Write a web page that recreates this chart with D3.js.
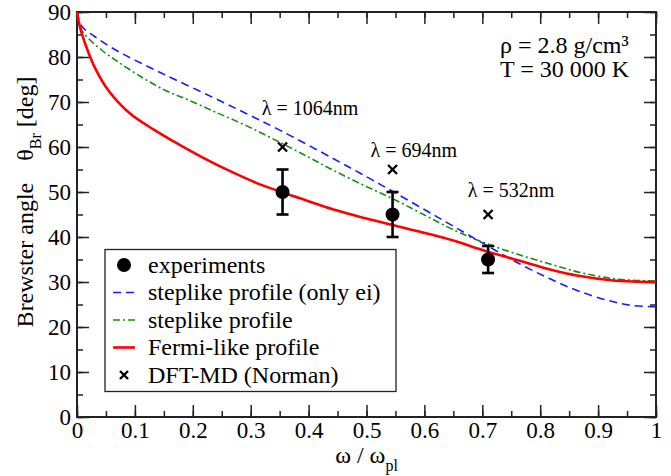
<!DOCTYPE html>
<html>
<head>
<meta charset="utf-8">
<script src="https://d3js.org/d3.v7.min.js"></script>
<style>
  body { margin: 0; background: #fff; }
</style>
</head>
<body>
<div id="chart"></div>
<script>
// tick values
var xTicks = [0, 0.1, 0.2, 0.3, 0.4, 0.5, 0.6, 0.7, 0.8, 0.9, 1];
var yTicks = [0, 10, 20, 30, 40, 50, 60, 70, 80, 90];

// experiments (x, angle, error)
var expX = [0.355, 0.545, 0.71];
var expY = [50, 45, 35];
var expErr = [5, 5, 3];

// DFT-MD (Norman)
var dftX = [0.355, 0.545, 0.71];
var dftY = [60, 55, 45];
var dftLabels = ["λ = 1064nm", "λ = 694nm", "λ = 532nm"];

// steplike profile (only ei)
var blueLine = [[0, 90], [0.008, 86.9], [0.031, 84.5], [0.066, 81.6], [0.1, 79.3], [0.135, 77.1],
  [0.169, 75.0], [0.235, 71.0], [0.293, 67.4], [0.351, 63.7], [0.443, 57.4], [0.5, 53.4],
  [0.547, 50.0], [0.6, 46.1], [0.65, 42.4], [0.708, 38.1], [0.765, 34.0], [0.817, 30.7],
  [0.866, 28.0], [0.923, 25.7], [0.958, 24.8], [1.0, 24.5]];

// steplike profile
var greenLine = [[0, 90], [0.008, 86.0], [0.02, 84.1], [0.043, 81.5], [0.071, 78.9], [0.112, 75.5],
  [0.152, 72.6], [0.186, 70.8], [0.235, 68.0], [0.293, 64.7], [0.351, 61.0], [0.402, 57.6],
  [0.443, 54.8], [0.5, 51.2], [0.547, 48.4], [0.6, 44.9], [0.65, 41.6], [0.708, 38.5],
  [0.765, 36.0], [0.817, 34.0], [0.866, 32.2], [0.923, 30.8], [0.96, 30.4], [1.0, 30.2]];

// Fermi-like profile
var redLine = [[0, 90], [0.003, 87.8], [0.008, 85.3], [0.02, 80.9], [0.031, 77.6], [0.054, 72.6],
  [0.09, 67.6], [0.132, 63.9], [0.166, 61.3], [0.218, 57.6], [0.27, 54.3], [0.316, 51.7],
  [0.355, 49.9], [0.385, 48.6], [0.443, 46.1], [0.5, 44.1], [0.547, 42.6], [0.604, 40.8],
  [0.65, 39.2], [0.708, 36.8], [0.765, 34.7], [0.817, 32.8], [0.866, 31.4], [0.923, 30.4],
  [0.96, 30.1], [1.0, 30.0]];

var W = 671, H = 476;
var m = {left: 77, right: 15, top: 12, bottom: 59};
var FONT = "Liberation Serif";

var svg = d3.select("#chart").append("svg")
  .attr("width", W).attr("height", H)
  .attr("font-family", FONT);

var x = d3.scaleLinear().domain([0, 1]).range([m.left, W - m.right]);
var y = d3.scaleLinear().domain([0, 90]).range([H - m.bottom, m.top]);

var minorX = d3.range(0, 21).map(function(i){ return i * 0.05; });
var minorY = d3.range(0, 19).map(function(i){ return i * 5; });

function styleAxis(g) {
  g.attr("font-family", FONT);
  g.select(".domain").remove();
  g.selectAll(".tick line").attr("stroke", "#222").attr("stroke-width", 1.5);
  g.selectAll("text").attr("font-size", 23).attr("font-family", FONT).attr("fill", "#000");
}

// minor ticks
svg.append("g").attr("transform", "translate(0," + y(0) + ")")
  .call(d3.axisBottom(x).tickValues(minorX).tickSize(-6).tickFormat(""))
  .call(styleAxis);
svg.append("g").attr("transform", "translate(0," + y(90) + ")")
  .call(d3.axisTop(x).tickValues(minorX).tickSize(-6).tickFormat(""))
  .call(styleAxis);
svg.append("g").attr("transform", "translate(" + x(0) + ",0)")
  .call(d3.axisLeft(y).tickValues(minorY).tickSize(-6).tickFormat(""))
  .call(styleAxis);
svg.append("g").attr("transform", "translate(" + x(1) + ",0)")
  .call(d3.axisRight(y).tickValues(minorY).tickSize(-6).tickFormat(""))
  .call(styleAxis);

// major ticks
svg.append("g").attr("transform", "translate(0," + y(0) + ")")
  .call(d3.axisBottom(x).tickValues(xTicks).tickSize(-12).tickPadding(5)
    .tickFormat(function(d){ return String(d); }))
  .call(styleAxis);
svg.append("g").attr("transform", "translate(0," + y(90) + ")")
  .call(d3.axisTop(x).tickValues(xTicks).tickSize(-12).tickFormat(""))
  .call(styleAxis);
svg.append("g").attr("transform", "translate(" + x(0) + ",0)")
  .call(d3.axisLeft(y).tickValues(yTicks).tickSize(-12).tickPadding(6)
    .tickFormat(function(d){ return String(d); }))
  .call(styleAxis);
svg.append("g").attr("transform", "translate(" + x(1) + ",0)")
  .call(d3.axisRight(y).tickValues(yTicks).tickSize(-12).tickFormat(""))
  .call(styleAxis);

// frame
svg.append("rect")
  .attr("x", x(0)).attr("y", y(90))
  .attr("width", x(1) - x(0)).attr("height", y(0) - y(90))
  .attr("fill", "none").attr("stroke", "#222").attr("stroke-width", 2);

// curves
var line = d3.line()
  .x(function(d){ return x(d[0]); })
  .y(function(d){ return y(d[1]); })
  .curve(d3.curveCatmullRom.alpha(0.5));

svg.append("path").datum(greenLine)
  .attr("d", line).attr("fill", "none")
  .attr("stroke", "#109010").attr("stroke-width", 1.6)
  .attr("stroke-dasharray", "7,3,2,3");

svg.append("path").datum(blueLine)
  .attr("d", line).attr("fill", "none")
  .attr("stroke", "#1a1aff").attr("stroke-width", 1.6)
  .attr("stroke-dasharray", "8,5");

svg.append("path").datum(redLine)
  .attr("d", line).attr("fill", "none")
  .attr("stroke", "#ff0000").attr("stroke-width", 2.6);

// DFT-MD crosses
var cs = 4.5;
dftX.forEach(function(v, i) {
  var cx = x(v), cy = y(dftY[i]);
  svg.append("path")
    .attr("d", "M" + (cx - cs) + "," + (cy - cs) + "L" + (cx + cs) + "," + (cy + cs) +
               "M" + (cx - cs) + "," + (cy + cs) + "L" + (cx + cs) + "," + (cy - cs))
    .attr("stroke", "#000").attr("stroke-width", 2.4);
});

// wavelength labels
var labelPos = [[0.319, 67.1], [0.507, 57.8], [0.675, 48.9]];
dftLabels.forEach(function(t, i) {
  svg.append("text")
    .attr("x", x(labelPos[i][0])).attr("y", y(labelPos[i][1]))
    .attr("font-size", 20).text(t);
});

// experiments with error bars
expX.forEach(function(v, i) {
  var cx = x(v);
  var y1 = y(expY[i] + expErr[i]), y2 = y(expY[i] - expErr[i]);
  var g = svg.append("g").attr("stroke", "#000").attr("stroke-width", 2.6);
  g.append("line").attr("x1", cx).attr("x2", cx).attr("y1", y1).attr("y2", y2);
  g.append("line").attr("x1", cx - 6).attr("x2", cx + 6).attr("y1", y1).attr("y2", y1);
  g.append("line").attr("x1", cx - 6).attr("x2", cx + 6).attr("y1", y2).attr("y2", y2);
  svg.append("circle").attr("cx", cx).attr("cy", y(expY[i])).attr("r", 7).attr("fill", "#000");
});

// top-right annotation
svg.append("text").attr("x", 500).attr("y", 53).attr("font-size", 24).text("ρ = 2.8 g/cm³");
svg.append("text").attr("x", 500).attr("y", 77).attr("font-size", 24).text("T = 30 000 K");

// legend
var legNames = ["experiments", "steplike profile (only ei)", "steplike profile", "Fermi-like profile", "DFT-MD (Norman)"];
var leg = svg.append("g");
leg.append("rect").attr("x", 105).attr("y", 249.5).attr("width", 291).attr("height", 142)
  .attr("fill", "#fff").attr("stroke", "#222").attr("stroke-width", 1.3);
legNames.forEach(function(name, i) {
  var ly = 265 + i * 27.5;
  var gx1 = 113, gx2 = 135, gc = 124;
  if (i === 0) {
    leg.append("circle").attr("cx", gc).attr("cy", ly).attr("r", 7).attr("fill", "#000");
  } else if (i === 1) {
    leg.append("line").attr("x1", gx1).attr("x2", gx2).attr("y1", ly).attr("y2", ly)
      .attr("stroke", "#1a1aff").attr("stroke-width", 1.6).attr("stroke-dasharray", "8,5");
  } else if (i === 2) {
    leg.append("line").attr("x1", gx1).attr("x2", gx2).attr("y1", ly).attr("y2", ly)
      .attr("stroke", "#109010").attr("stroke-width", 1.6).attr("stroke-dasharray", "7,3,2,3");
  } else if (i === 3) {
    leg.append("line").attr("x1", gx1).attr("x2", gx2).attr("y1", ly).attr("y2", ly)
      .attr("stroke", "#ff0000").attr("stroke-width", 2.6);
  } else {
    leg.append("path")
      .attr("d", "M" + (gc - 4) + "," + (ly - 4) + "L" + (gc + 4) + "," + (ly + 4) +
                 "M" + (gc - 4) + "," + (ly + 4) + "L" + (gc + 4) + "," + (ly - 4))
      .attr("stroke", "#000").attr("stroke-width", 2.4);
  }
  leg.append("text").attr("x", 148).attr("y", ly).attr("dy", "0.33em")
    .attr("font-size", 24).text(name);
});

// axis titles
var xt = svg.append("text").attr("x", x(0.5)).attr("y", 463)
  .attr("text-anchor", "middle").attr("font-size", 24);
xt.append("tspan").text("ω / ω");
xt.append("tspan").attr("dy", 8).attr("font-size", 16).text("pl");

var yt = svg.append("text")
  .attr("transform", "translate(33," + 202 + ") rotate(-90)")
  .attr("text-anchor", "middle").attr("font-size", 24);
yt.append("tspan").text("Brewster angle");
yt.append("tspan").attr("dx", 22).text("θ");
yt.append("tspan").attr("dy", 8).attr("font-size", 16).text("Br");
yt.append("tspan").attr("dy", -8).text(" [deg]");
</script>
</body>
</html>
